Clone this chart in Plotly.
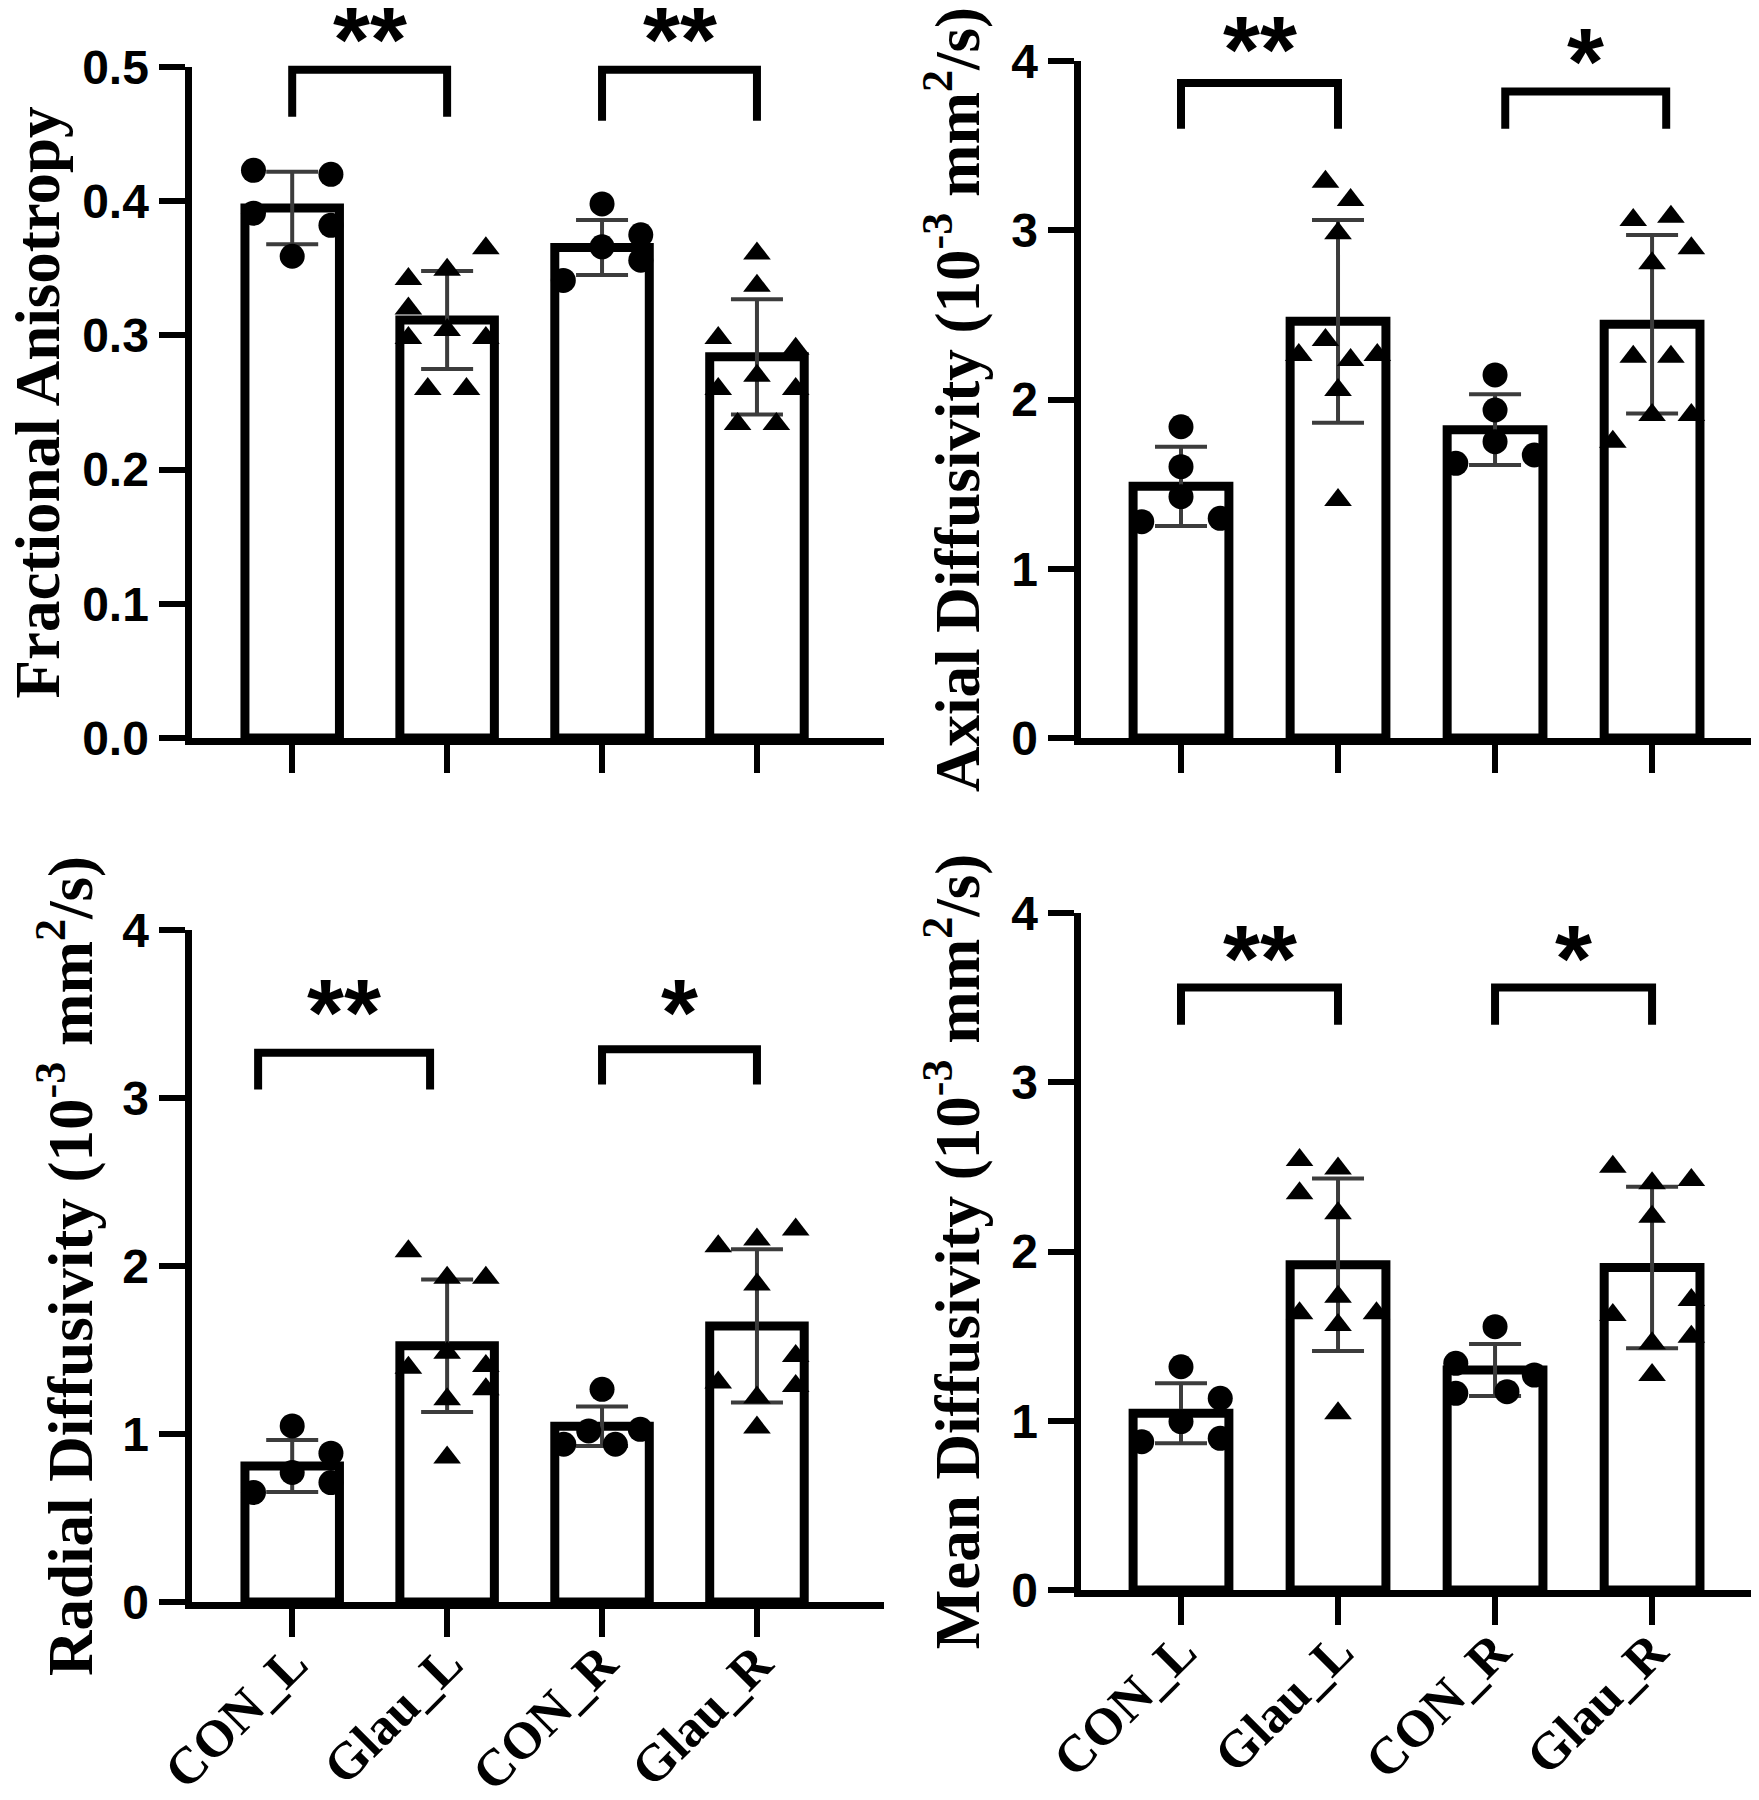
import plotly.graph_objects as go

# ---------------- data ----------------
categories = ["CON_L", "Glau_L", "CON_R", "Glau_R"]

# Fractional Anisotropy
fa_mean = [0.395, 0.3115, 0.3655, 0.284]
fa_sd = [0.027, 0.0365, 0.0205, 0.043]
fa_con_l = [0.423, 0.420, 0.391, 0.382, 0.359]
fa_glau_l = [0.342, 0.349, 0.365, 0.320, 0.298, 0.304, 0.298, 0.260, 0.260]
fa_con_r = [0.398, 0.375, 0.366, 0.356, 0.341]
fa_glau_r = [0.361, 0.337, 0.298, 0.290, 0.270, 0.260, 0.260, 0.234, 0.234]
fa_con_l_dx = [-0.25, 0.25, -0.25, 0.25, 0.0]
fa_glau_l_dx = [-0.25, 0.0, 0.25, -0.25, -0.25, 0.0, 0.25, -0.125, 0.125]
fa_con_r_dx = [0.0, 0.25, 0.0, 0.25, -0.25]
fa_glau_r_dx = [0.0, 0.0, -0.25, 0.25, 0.0, -0.25, 0.25, -0.125, 0.125]

# Axial Diffusivity
ad_mean = [1.487, 2.462, 1.822, 2.445]
ad_sd = [0.234, 0.599, 0.209, 0.527]
ad_con_l = [1.839, 1.603, 1.426, 1.278, 1.298]
ad_glau_l = [3.287, 3.179, 2.982, 2.352, 2.263, 2.233, 2.263, 2.056, 1.406]
ad_con_r = [2.145, 1.938, 1.751, 1.623, 1.672]
ad_glau_r = [3.061, 3.080, 2.893, 2.805, 2.253, 2.253, 1.908, 1.908, 1.751]
ad_con_l_dx = [0.0, 0.0, 0.0, -0.25, 0.25]
ad_glau_l_dx = [-0.08, 0.08, 0.0, -0.08, -0.25, 0.08, 0.25, 0.0, 0.0]
ad_con_r_dx = [0.0, 0.0, 0.0, -0.25, 0.25]
ad_glau_r_dx = [-0.12, 0.12, 0.25, 0.0, -0.12, 0.12, 0.0, 0.25, -0.25]

# Radial Diffusivity
rd_mean = [0.81, 1.525, 1.046, 1.643]
rd_sd = [0.155, 0.394, 0.117, 0.456]
rd_con_l = [1.048, 0.886, 0.771, 0.652, 0.711]
rd_glau_l = [2.088, 1.930, 1.930, 1.484, 1.395, 1.405, 1.266, 1.207, 0.860]
rd_con_r = [1.266, 1.018, 1.028, 0.939, 0.939]
rd_glau_r = [2.118, 2.157, 2.217, 1.890, 1.464, 1.306, 1.286, 1.217, 1.038]
rd_con_l_dx = [0.0, 0.25, 0.0, -0.25, 0.25]
rd_glau_l_dx = [-0.25, 0.0, 0.25, 0.0, -0.25, 0.25, 0.25, 0.0, 0.0]
rd_con_r_dx = [0.0, -0.086, 0.247, -0.247, 0.086]
rd_glau_r_dx = [-0.25, 0.0, 0.25, 0.0, 0.25, -0.25, 0.25, 0.0, 0.0]

# Mean Diffusivity
md_mean = [1.044, 1.922, 1.30, 1.906]
md_sd = [0.177, 0.51, 0.154, 0.477]
md_con_l = [1.319, 1.133, 0.995, 0.876, 0.896]
md_glau_l = [2.541, 2.491, 2.344, 2.226, 1.733, 1.635, 1.635, 1.566, 1.044]
md_con_r = [1.556, 1.339, 1.270, 1.162, 1.172]
md_glau_r = [2.501, 2.403, 2.423, 2.206, 1.625, 1.713, 1.497, 1.458, 1.270]
md_con_l_dx = [0.0, 0.25, 0.0, -0.25, 0.25]
md_glau_l_dx = [-0.245, 0.0, -0.245, 0.0, 0.0, -0.245, 0.245, 0.0, 0.0]
md_con_r_dx = [0.0, -0.25, 0.25, -0.25, 0.076]
md_glau_r_dx = [-0.25, 0.0, 0.25, 0.0, -0.25, 0.25, 0.25, 0.0, 0.0]

# significance brackets: (left leg x, right leg x, top, leg bottom, label, label y)
fa_sig = [(0.0, 1.0, 0.498, 0.463, "**", 0.527), (2.0, 3.0, 0.498, 0.460, "**", 0.527)]
ad_sig = [(0.0, 1.0, 3.87, 3.60, "**", 4.12), (2.065, 3.09, 3.82, 3.60, "*", 4.05)]
rd_sig = [(-0.22, 0.89, 3.27, 3.05, "**", 3.56), (2.0, 3.0, 3.29, 3.08, "*", 3.56)]
md_sig = [(0.0, 1.0, 3.56, 3.34, "**", 3.78), (2.0, 3.0, 3.56, 3.34, "*", 3.78)]

fa_ticks = [0.0, 0.1, 0.2, 0.3, 0.4, 0.5]
fa_ticktext = ["0.0", "0.1", "0.2", "0.3", "0.4", "0.5"]
diff_ticks = [0, 1, 2, 3, 4]
diff_ticktext = ["0", "1", "2", "3", "4"]

# ---------------- layout geometry ----------------
OFF = 8                      # page body margin around the figure
FW, FH = 1759 - OFF, 1800 - OFF
LW = 7                       # axis line width


def xdom(axis_x, axis_end):
    return [(axis_x - OFF + LW / 2) / FW, (axis_end - OFF) / FW]


def ydom(y0, ytop):
    return [1 - (y0 - OFF) / FH, 1 - (ytop - OFF) / FH]


XR_LEFT = [-0.65, 3.82]
XR_RIGHT = [-0.64, 3.63]

# title placement: None -> regular axis title with standoff; number -> free text at paper x
panels = [
    dict(title="Fractional Anisotropy", mean=fa_mean, sd=fa_sd,
         pts=[fa_con_l, fa_glau_l, fa_con_r, fa_glau_r],
         dx=[fa_con_l_dx, fa_glau_l_dx, fa_con_r_dx, fa_glau_r_dx],
         sig=fa_sig, ticks=fa_ticks, ticktext=fa_ticktext, ymax=0.5, xr=XR_LEFT,
         xdom=xdom(188, 884), ydom=ydom(738, 67), labels=False, standoff=30,
         title_x=(38 - OFF) / FW),
    dict(title="Axial Diffusivity (10<sup>-3</sup> mm<sup>2</sup>/s)", mean=ad_mean, sd=ad_sd,
         pts=[ad_con_l, ad_glau_l, ad_con_r, ad_glau_r],
         dx=[ad_con_l_dx, ad_glau_l_dx, ad_con_r_dx, ad_glau_r_dx],
         sig=ad_sig, ticks=diff_ticks, ticktext=diff_ticktext, ymax=4, xr=XR_RIGHT,
         xdom=xdom(1077, 1751), ydom=ydom(738, 61), labels=False, standoff=14, title_x=None),
    dict(title="Radial Diffusivity (10<sup>-3</sup> mm<sup>2</sup>/s)", mean=rd_mean, sd=rd_sd,
         pts=[rd_con_l, rd_glau_l, rd_con_r, rd_glau_r],
         dx=[rd_con_l_dx, rd_glau_l_dx, rd_con_r_dx, rd_glau_r_dx],
         sig=rd_sig, ticks=diff_ticks, ticktext=diff_ticktext, ymax=4, xr=XR_LEFT,
         xdom=xdom(188, 884), ydom=ydom(1602, 930), labels=True, standoff=12, title_x=None),
    dict(title="Mean Diffusivity (10<sup>-3</sup> mm<sup>2</sup>/s)", mean=md_mean, sd=md_sd,
         pts=[md_con_l, md_glau_l, md_con_r, md_glau_r],
         dx=[md_con_l_dx, md_glau_l_dx, md_con_r_dx, md_glau_r_dx],
         sig=md_sig, ticks=diff_ticks, ticktext=diff_ticktext, ymax=4, xr=XR_RIGHT,
         xdom=xdom(1077, 1751), ydom=ydom(1590, 913), labels=True, standoff=14, title_x=None),
]

symbols = ["circle", "triangle-up", "circle", "triangle-up"]
msizes = [25, 24, 25, 24]
title_font = dict(family="Liberation Serif", size=63, color="black", weight="bold")

fig = go.Figure()
layout = {}
annotations = []

for i, p in enumerate(panels):
    n = i + 1
    c = i + 5  # companion axes for brackets / stars
    xa, ya = ("x" if n == 1 else f"x{n}"), ("y" if n == 1 else f"y{n}")
    xc, yc = f"x{c}", f"y{c}"
    xs = list(range(len(categories)))

    fig.add_trace(go.Bar(x=xs, y=p["mean"], width=0.61, xaxis=xa, yaxis=ya,
                         marker=dict(color="white", line=dict(color="black", width=9)),
                         showlegend=False))
    fig.add_trace(go.Scatter(x=xs, y=p["mean"], mode="markers", xaxis=xa, yaxis=ya,
                             marker=dict(size=1, color="rgba(0,0,0,0)"),
                             error_y=dict(type="data", array=p["sd"], visible=True,
                                          color="#3c3c3c", thickness=4, width=26),
                             showlegend=False))
    for g in range(len(categories)):
        fig.add_trace(go.Scatter(x=[g + d for d in p["dx"][g]], y=p["pts"][g], mode="markers",
                                 xaxis=xa, yaxis=ya, cliponaxis=False,
                                 marker=dict(symbol=symbols[g], size=msizes[g], color="black",
                                             line=dict(width=0)),
                                 showlegend=False))

    # axes
    tickfont = dict(family="Liberation Sans", size=48, color="black", weight="bold")
    layout["xaxis" if n == 1 else f"xaxis{n}"] = dict(
        domain=p["xdom"], range=p["xr"], anchor=ya, showline=True, linecolor="black",
        linewidth=LW, ticks="outside", ticklen=28, tickwidth=6, tickcolor="black",
        tickvals=xs, ticktext=categories, showticklabels=p["labels"], tickangle=-45,
        ticklabelstandoff=-25, automargin=False,
        tickfont=dict(family="Liberation Serif", size=52, color="black", weight="bold"),
        showgrid=False, zeroline=False, fixedrange=True)
    yaxis = dict(
        domain=p["ydom"], range=[0, p["ymax"]], anchor=xa, showline=True, linecolor="black",
        linewidth=LW, ticks="outside", ticklen=26, tickwidth=6, tickcolor="black",
        tickvals=p["ticks"], ticktext=p["ticktext"], tickfont=tickfont, automargin=False,
        showgrid=False, zeroline=False, fixedrange=True)
    if p["title_x"] is None:
        yaxis["title"] = dict(text=p["title"], standoff=p["standoff"], font=title_font)
    else:
        annotations.append(dict(text=p["title"], x=p["title_x"], xref="paper",
                                y=0.5, yref=f"{ya} domain", textangle=-90,
                                xanchor="center", yanchor="middle", showarrow=False,
                                font=title_font))
    layout["yaxis" if n == 1 else f"yaxis{n}"] = yaxis

    # companion axes: same scale, taller domain, so brackets are not clipped
    d0, d1 = p["ydom"]
    d1c = min(1.0, d1 + 0.05)
    ytop = p["ymax"] * (d1c - d0) / (d1 - d0)
    layout[f"xaxis{c}"] = dict(domain=p["xdom"], range=p["xr"], anchor=yc, visible=False,
                               fixedrange=True)
    layout[f"yaxis{c}"] = dict(domain=[d0, d1c], range=[0, ytop], anchor=xc, visible=False,
                               fixedrange=True)
    for (a, b, top, leg, lab, ly) in p["sig"]:
        fig.add_trace(go.Scatter(x=[a, a, b, b], y=[leg, top, top, leg], mode="lines",
                                 xaxis=xc, yaxis=yc,
                                 line=dict(color="black", width=8),
                                 showlegend=False))
        annotations.append(dict(x=(a + b) / 2, y=ly, xref=xc, yref=yc, text=lab,
                                showarrow=False, yanchor="middle", yshift=-8,
                                font=dict(family="Liberation Sans", size=95, color="black",
                                          weight="bold")))

fig.update_layout(**layout)
fig.update_layout(width=FW, height=FH, margin=dict(l=0, r=0, t=0, b=0, autoexpand=False),
                  paper_bgcolor="white", plot_bgcolor="rgba(0,0,0,0)",
                  annotations=annotations, showlegend=False, barmode="overlay")

fig.write_html("out.html")
